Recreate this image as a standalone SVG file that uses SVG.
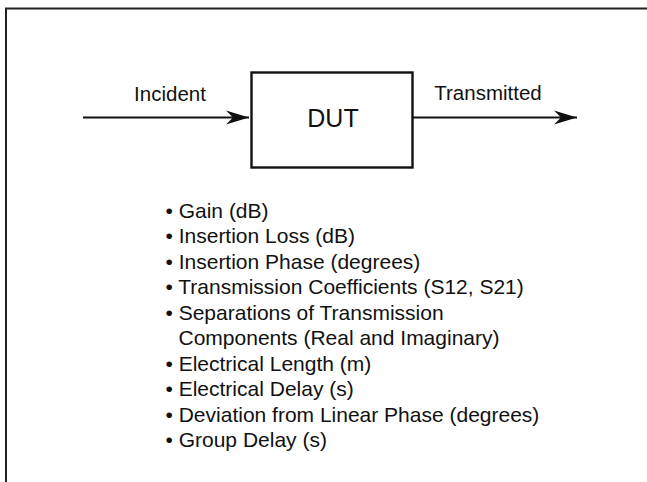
<svg xmlns="http://www.w3.org/2000/svg" width="647" height="482" viewBox="0 0 647 482">
  <style>
    text { font-family: "Liberation Sans", Arial, sans-serif; fill: #111; }
    .lbl { font-size: 20.5px; }
    .li { font-size: 21px; }
    .edge { stroke: #111; stroke-width: 2; fill: none; }
  </style>
  <defs>
    <marker id="arr" markerUnits="userSpaceOnUse" markerWidth="24" markerHeight="16" viewBox="0 0 24 16" refX="23" refY="8" orient="auto">
      <path d="M0,1 L23,8 L0,15 L7,8 Z" fill="#111"/>
    </marker>
  </defs>
  <rect width="647" height="482" fill="#fff"/>
  <g id="frame">
    <path d="M6,482 V8.5 H647" fill="none" stroke="#222" stroke-width="2"/>
  </g>
  <g id="connectors">
    <line class="edge" x1="83" y1="117.5" x2="249" y2="117.5" marker-end="url(#arr)"/>
    <line class="edge" x1="413" y1="117.5" x2="577" y2="117.5" marker-end="url(#arr)"/>
    <text class="lbl" x="170" y="101" text-anchor="middle">Incident</text>
    <text class="lbl" x="488" y="100" text-anchor="middle">Transmitted</text>
  </g>
  <g id="dut">
    <rect x="251.5" y="72.5" width="161" height="95" fill="#fff" stroke="#111" stroke-width="2.4"/>
    <text x="333" y="126.5" font-size="25" text-anchor="middle">DUT</text>
  </g>
  <g id="list">
    <text class="li" x="165.5" y="217.5">• Gain (dB)</text>
    <text class="li" x="165.5" y="243">• Insertion Loss (dB)</text>
    <text class="li" x="165.5" y="268.5">• Insertion Phase (degrees)</text>
    <text class="li" x="165.5" y="294">• Transmission Coefficients (S12, S21)</text>
    <text class="li" x="165.5" y="319.5">• Separations of Transmission</text>
    <text class="li" x="178.5" y="345">Components (Real and Imaginary)</text>
    <text class="li" x="165.5" y="370.5">• Electrical Length (m)</text>
    <text class="li" x="165.5" y="396">• Electrical Delay (s)</text>
    <text class="li" x="165.5" y="421.5">• Deviation from Linear Phase (degrees)</text>
    <text class="li" x="165.5" y="447">• Group Delay (s)</text>
  </g>
</svg>
